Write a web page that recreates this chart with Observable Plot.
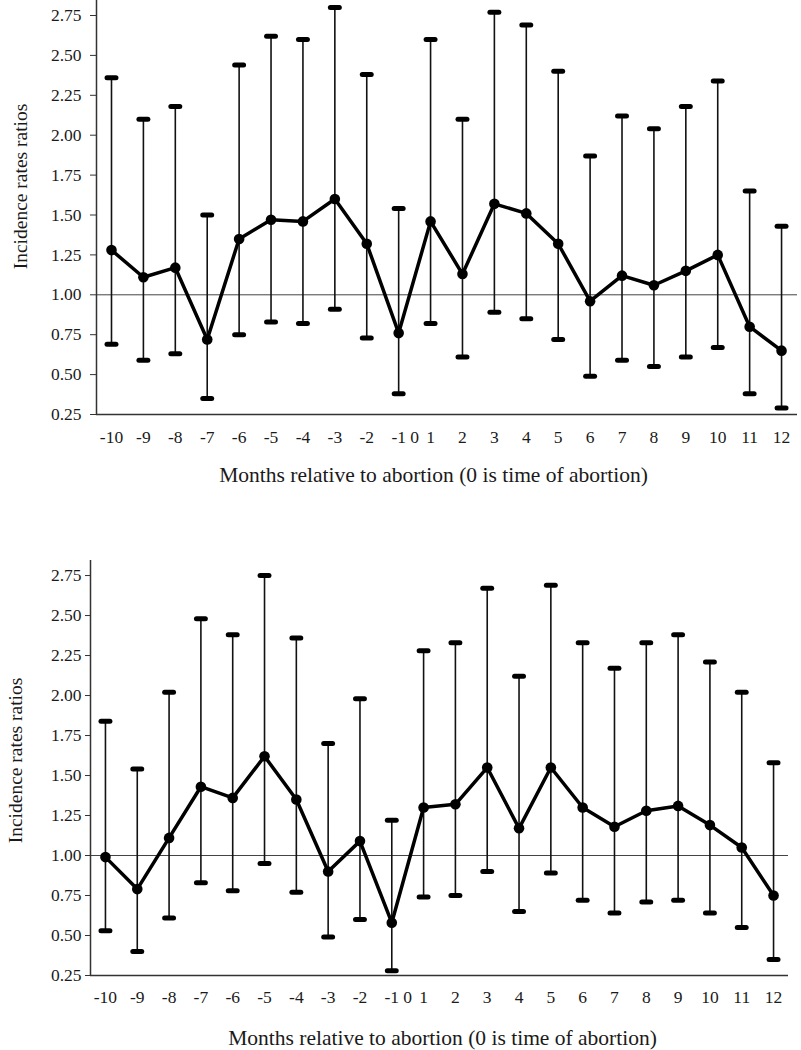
<!DOCTYPE html>
<html>
<head>
<meta charset="utf-8">
<script src="https://cdn.jsdelivr.net/npm/d3@7"></script>
<script src="https://cdn.jsdelivr.net/npm/@observablehq/plot@0.6"></script>
<style>
  html, body { margin: 0; padding: 0; background: #fff; }
  svg { display: block; }
  svg, svg text, svg tspan { font-family: "Liberation Serif", "DejaVu Serif", serif !important; }
</style>
</head>
<body>
<div id="chart"></div>
<script>
// Months relative to abortion (no data point at 0)
const months = [-10, -9, -8, -7, -6, -5, -4, -3, -2, -1, 1, 2, 3, 4, 5, 6, 7, 8, 9, 10, 11, 12];

// Top panel: incidence rate ratios and 95% CI
const irrTop   = [1.28, 1.11, 1.17, 0.72, 1.35, 1.47, 1.46, 1.60, 1.32, 0.76, 1.46, 1.13, 1.57, 1.51, 1.32, 0.96, 1.12, 1.06, 1.15, 1.25, 0.80, 0.65];
const lowerTop = [0.69, 0.59, 0.63, 0.35, 0.75, 0.83, 0.82, 0.91, 0.73, 0.38, 0.82, 0.61, 0.89, 0.85, 0.72, 0.49, 0.59, 0.55, 0.61, 0.67, 0.38, 0.29];
const upperTop = [2.36, 2.10, 2.18, 1.50, 2.44, 2.62, 2.60, 2.80, 2.38, 1.54, 2.60, 2.10, 2.77, 2.69, 2.40, 1.87, 2.12, 2.04, 2.18, 2.34, 1.65, 1.43];

// Bottom panel: incidence rate ratios and 95% CI
const irrBottom   = [0.99, 0.79, 1.11, 1.43, 1.36, 1.62, 1.35, 0.90, 1.09, 0.58, 1.30, 1.32, 1.55, 1.17, 1.55, 1.30, 1.18, 1.28, 1.31, 1.19, 1.05, 0.75];
const lowerBottom = [0.53, 0.40, 0.61, 0.83, 0.78, 0.95, 0.77, 0.49, 0.60, 0.28, 0.74, 0.75, 0.90, 0.65, 0.89, 0.72, 0.64, 0.71, 0.72, 0.64, 0.55, 0.35];
const upperBottom = [1.84, 1.54, 2.02, 2.48, 2.38, 2.75, 2.36, 1.70, 1.98, 1.22, 2.28, 2.33, 2.67, 2.12, 2.69, 2.33, 2.17, 2.33, 2.38, 2.21, 2.02, 1.58];

// Axis ticks and labels
const yTicks = [0.25, 0.50, 0.75, 1.00, 1.25, 1.50, 1.75, 2.00, 2.25, 2.50, 2.75];
const zeroLabel = "0";
const xTitle = "Months relative to abortion (0 is time of abortion)";
const yTitle = "Incidence rates ratios";
const referenceValue = 1.00;

const FONT = "Liberation Serif";
const yDomain = [0.25, 2.844];

function panel(cfg) {
  const data = months.map((m, i) => ({i, m, irr: cfg.irr[i], lo: cfg.lo[i], hi: cfg.hi[i]}));
  const zeroPos = (months.indexOf(-1) + months.indexOf(1)) / 2;
  const xTicks = months.map((m, i) => i).concat([zeroPos]);
  const fmt = t => (t === zeroPos ? zeroLabel : String(months[t]));
  const xDomain = [-0.47, cfg.xMax];
  const capHalf = 0.14;
  return Plot.plot({
    width: 801,
    height: cfg.height,
    marginLeft: cfg.marginLeft,
    marginRight: cfg.marginRight,
    marginTop: cfg.marginTop,
    marginBottom: cfg.marginBottom,
    x: {type: "linear", domain: xDomain},
    y: {type: "linear", domain: yDomain},
    style: {fontFamily: FONT, color: "#1a1a1a", background: "#fff", overflow: "visible"},
    marks: [
      Plot.ruleY([referenceValue], {stroke: "#444", strokeWidth: 1}),
      Plot.ruleY([yDomain[0]], {stroke: "#333", strokeWidth: 1.5}),
      Plot.ruleX([xDomain[0]], {stroke: "#333", strokeWidth: 1.5}),
      Plot.ruleX(data, {x: "i", y1: "lo", y2: "hi", stroke: "#111", strokeWidth: 1.6}),
      Plot.link(data, {x1: d => d.i - capHalf, x2: d => d.i + capHalf, y1: "hi", y2: "hi", stroke: "#000", strokeWidth: 5, strokeLinecap: "round"}),
      Plot.link(data, {x1: d => d.i - capHalf, x2: d => d.i + capHalf, y1: "lo", y2: "lo", stroke: "#000", strokeWidth: 5, strokeLinecap: "round"}),
      Plot.line(data, {x: "i", y: "irr", stroke: "#000", strokeWidth: 3.5, strokeLinejoin: "round"}),
      Plot.dot(data, {x: "i", y: "irr", r: 5.3, fill: "#000", stroke: "none"}),
      Plot.axisY(yTicks, {tickFormat: d => d.toFixed(2), tickSize: cfg.tickSize, tickPadding: cfg.tickPadding, fontSize: 17.5, fontFamily: FONT, stroke: "#333", label: null}),
      Plot.axisX(xTicks, {tickFormat: fmt, tickSize: 0, tickPadding: cfg.xTickPadding, fontSize: 17.5, fontFamily: FONT, label: null}),
      Plot.text([xTitle], {frameAnchor: "bottom", dx: cfg.titleDx, dy: cfg.titleDy, fontSize: 21.5, fontFamily: FONT, lineAnchor: "middle", textAnchor: "middle", fill: "#1a1a1a"}),
      Plot.text([yTitle], {frameAnchor: "left", dx: cfg.ylabDx, dy: cfg.ylabDy, rotate: -90, fontSize: 19.5, fontFamily: FONT, lineAnchor: "middle", textAnchor: "middle", fill: "#1a1a1a"})
    ]
  });
}

const topPanel = panel({
  irr: irrTop, lo: lowerTop, hi: upperTop,
  height: 540, marginTop: 0, marginBottom: 126,
  marginLeft: 96, marginRight: 4, xMax: 21.5,
  tickSize: 6, tickPadding: 9, xTickPadding: 16,
  titleDx: -13.5, titleDy: 61, ylabDx: -76, ylabDy: -21
});
const bottomPanel = panel({
  irr: irrBottom, lo: lowerBottom, hi: upperBottom,
  height: 510, marginTop: 20, marginBottom: 75,
  marginLeft: 90, marginRight: 13, xMax: 21.47,
  tickSize: 5, tickPadding: 4, xTickPadding: 15,
  titleDx: 3, titleDy: 63, ylabDx: -75, ylabDy: -7.5
});
document.getElementById("chart").append(topPanel, bottomPanel);
</script>
</body>
</html>
